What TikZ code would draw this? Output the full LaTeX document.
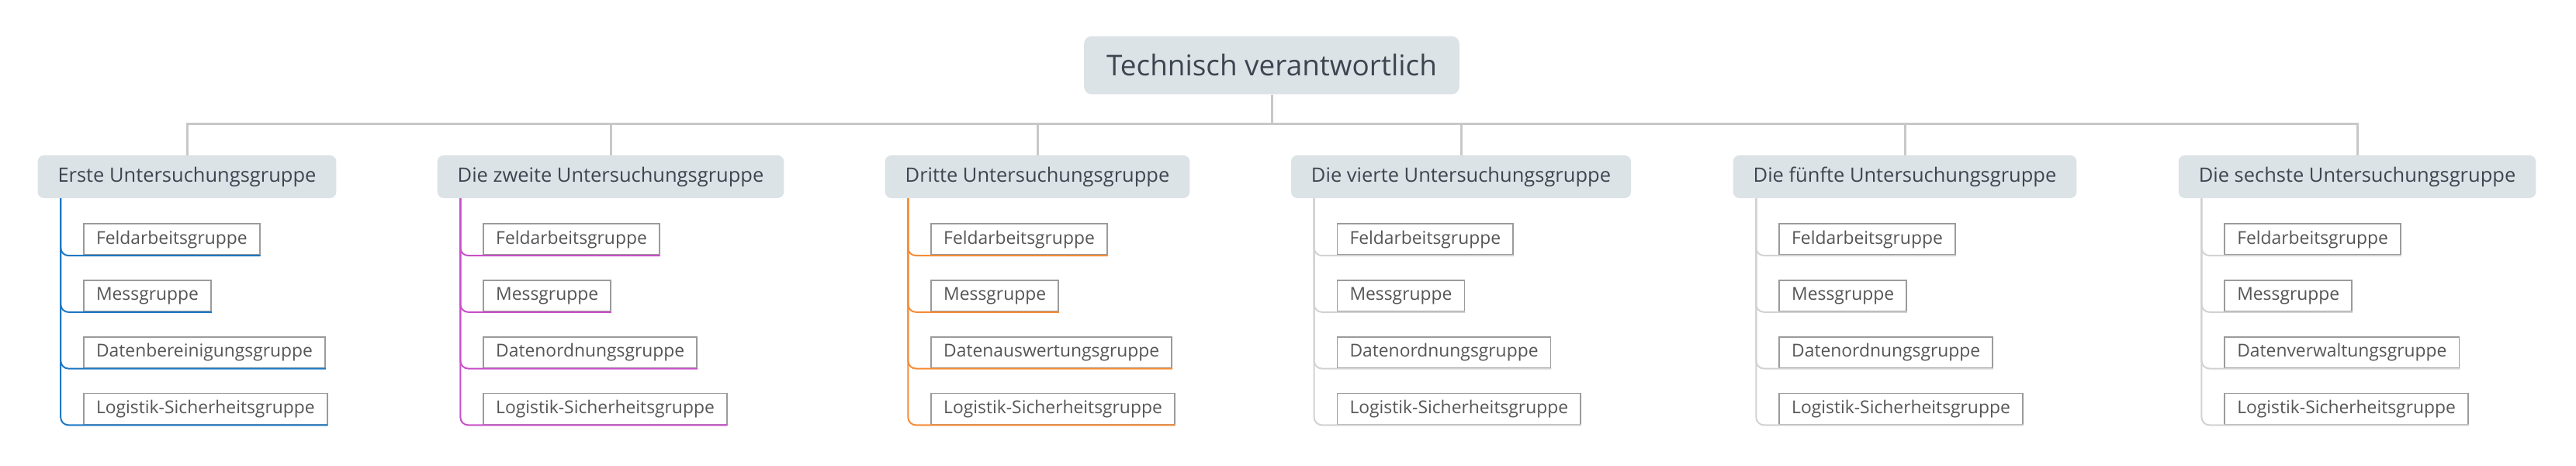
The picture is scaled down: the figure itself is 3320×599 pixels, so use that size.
\documentclass[tikz,border=0pt]{standalone}
\usepackage{fontspec}
\setmainfont{Open Sans}
\usetikzlibrary{positioning}
\definecolor{topicfill}{RGB}{220,227,230}
\definecolor{topictext}{RGB}{60,70,80}
\definecolor{subtext}{RGB}{85,85,85}
\definecolor{subborder}{RGB}{155,155,155}
\definecolor{busgray}{RGB}{200,200,200}
\definecolor{branchblue}{RGB}{30,120,195}
\definecolor{branchpink}{RGB}{200,80,200}
\definecolor{branchorange}{RGB}{245,140,55}
\definecolor{branchgray}{RGB}{210,210,210}

\begin{document}
\begin{tikzpicture}[
            x=0.02cm, y=-0.02cm,
            rootblock/.style={fill=topicfill, rounded corners=0.2cm, text=topictext, minimum height=1.5cm, inner xsep=0.58cm, font=\fontsize{21}{25}\selectfont},
            topicblock/.style={fill=topicfill, rounded corners=0.16cm, text=topictext, minimum height=1.1cm, inner xsep=0.52cm, font=\fontsize{14.5}{17}\selectfont},
            subblock/.style={draw=subborder, line width=0.035cm, text=subtext, minimum height=0.8cm, inner xsep=0.32cm, inner ysep=0pt, font=\fontsize{13}{15}\selectfont},
            bus/.style={draw=busgray, line width=0.06cm},
            branch/.style={line width=0.04cm, rounded corners=0.2cm},
            first/.style={below right=0.64cm and 1.18cm of #1.south west},
            next/.style={below right=0.62cm and 0cm of #1.south west}
        ]
        \useasboundingbox (0,0) rectangle (3320,599);

        % Root and main topics
        \node[rootblock] (root) at (1639,84) {Technisch verantwortlich};
        \node[topicblock] (erste) at (241,227.5) {Erste Untersuchungsgruppe};
        \node[topicblock] (zweite) at (787,227.5) {Die zweite Untersuchungsgruppe};
        \node[topicblock] (dritte) at (1337,227.5) {Dritte Untersuchungsgruppe};
        \node[topicblock] (vierte) at (1883,227.5) {Die vierte Untersuchungsgruppe};
        \node[topicblock] (fuenfte) at (2455,227.5) {Die fünfte Untersuchungsgruppe};
        \node[topicblock] (sechste) at (3038,227.5) {Die sechste Untersuchungsgruppe};

        % Subtopics
        \node[subblock, first=erste] (e1) {Feldarbeitsgruppe};
        \node[subblock, next=e1] (e2) {Messgruppe};
        \node[subblock, next=e2] (e3) {Datenbereinigungsgruppe};
        \node[subblock, next=e3] (e4) {Logistik-Sicherheitsgruppe};

        \node[subblock, first=zweite] (z1) {Feldarbeitsgruppe};
        \node[subblock, next=z1] (z2) {Messgruppe};
        \node[subblock, next=z2] (z3) {Datenordnungsgruppe};
        \node[subblock, next=z3] (z4) {Logistik-Sicherheitsgruppe};

        \node[subblock, first=dritte] (d1) {Feldarbeitsgruppe};
        \node[subblock, next=d1] (d2) {Messgruppe};
        \node[subblock, next=d2] (d3) {Datenauswertungsgruppe};
        \node[subblock, next=d3] (d4) {Logistik-Sicherheitsgruppe};

        \node[subblock, first=vierte] (v1) {Feldarbeitsgruppe};
        \node[subblock, next=v1] (v2) {Messgruppe};
        \node[subblock, next=v2] (v3) {Datenordnungsgruppe};
        \node[subblock, next=v3] (v4) {Logistik-Sicherheitsgruppe};

        \node[subblock, first=fuenfte] (f1) {Feldarbeitsgruppe};
        \node[subblock, next=f1] (f2) {Messgruppe};
        \node[subblock, next=f2] (f3) {Datenordnungsgruppe};
        \node[subblock, next=f3] (f4) {Logistik-Sicherheitsgruppe};

        \node[subblock, first=sechste] (s1) {Feldarbeitsgruppe};
        \node[subblock, next=s1] (s2) {Messgruppe};
        \node[subblock, next=s2] (s3) {Datenverwaltungsgruppe};
        \node[subblock, next=s3] (s4) {Logistik-Sicherheitsgruppe};

        % Root to topics
        \draw[bus] (root.south) -- ++(0,38) -| (erste.north);
        \draw[bus] (root.south) -- ++(0,38) -| (zweite.north);
        \draw[bus] (root.south) -- ++(0,38) -| (dritte.north);
        \draw[bus] (root.south) -- ++(0,38) -| (vierte.north);
        \draw[bus] (root.south) -- ++(0,38) -| (fuenfte.north);
        \draw[bus] (root.south) -- ++(0,38) -| (sechste.north);

        % Branches
        \draw[branch, branchblue] ([xshift=0.6cm]erste.south west) |- (e1.south east);
        \draw[branch, branchblue] ([xshift=0.6cm]erste.south west) |- (e2.south east);
        \draw[branch, branchblue] ([xshift=0.6cm]erste.south west) |- (e3.south east);
        \draw[branch, branchblue] ([xshift=0.6cm]erste.south west) |- (e4.south east);

        \draw[branch, branchpink] ([xshift=0.6cm]zweite.south west) |- (z1.south east);
        \draw[branch, branchpink] ([xshift=0.6cm]zweite.south west) |- (z2.south east);
        \draw[branch, branchpink] ([xshift=0.6cm]zweite.south west) |- (z3.south east);
        \draw[branch, branchpink] ([xshift=0.6cm]zweite.south west) |- (z4.south east);

        \draw[branch, branchorange] ([xshift=0.6cm]dritte.south west) |- (d1.south east);
        \draw[branch, branchorange] ([xshift=0.6cm]dritte.south west) |- (d2.south east);
        \draw[branch, branchorange] ([xshift=0.6cm]dritte.south west) |- (d3.south east);
        \draw[branch, branchorange] ([xshift=0.6cm]dritte.south west) |- (d4.south east);

        \draw[branch, branchgray] ([xshift=0.6cm]vierte.south west) |- (v1.south east);
        \draw[branch, branchgray] ([xshift=0.6cm]vierte.south west) |- (v2.south east);
        \draw[branch, branchgray] ([xshift=0.6cm]vierte.south west) |- (v3.south east);
        \draw[branch, branchgray] ([xshift=0.6cm]vierte.south west) |- (v4.south east);

        \draw[branch, branchgray] ([xshift=0.6cm]fuenfte.south west) |- (f1.south east);
        \draw[branch, branchgray] ([xshift=0.6cm]fuenfte.south west) |- (f2.south east);
        \draw[branch, branchgray] ([xshift=0.6cm]fuenfte.south west) |- (f3.south east);
        \draw[branch, branchgray] ([xshift=0.6cm]fuenfte.south west) |- (f4.south east);

        \draw[branch, branchgray] ([xshift=0.6cm]sechste.south west) |- (s1.south east);
        \draw[branch, branchgray] ([xshift=0.6cm]sechste.south west) |- (s2.south east);
        \draw[branch, branchgray] ([xshift=0.6cm]sechste.south west) |- (s3.south east);
        \draw[branch, branchgray] ([xshift=0.6cm]sechste.south west) |- (s4.south east);
    \end{tikzpicture}
\end{document}
